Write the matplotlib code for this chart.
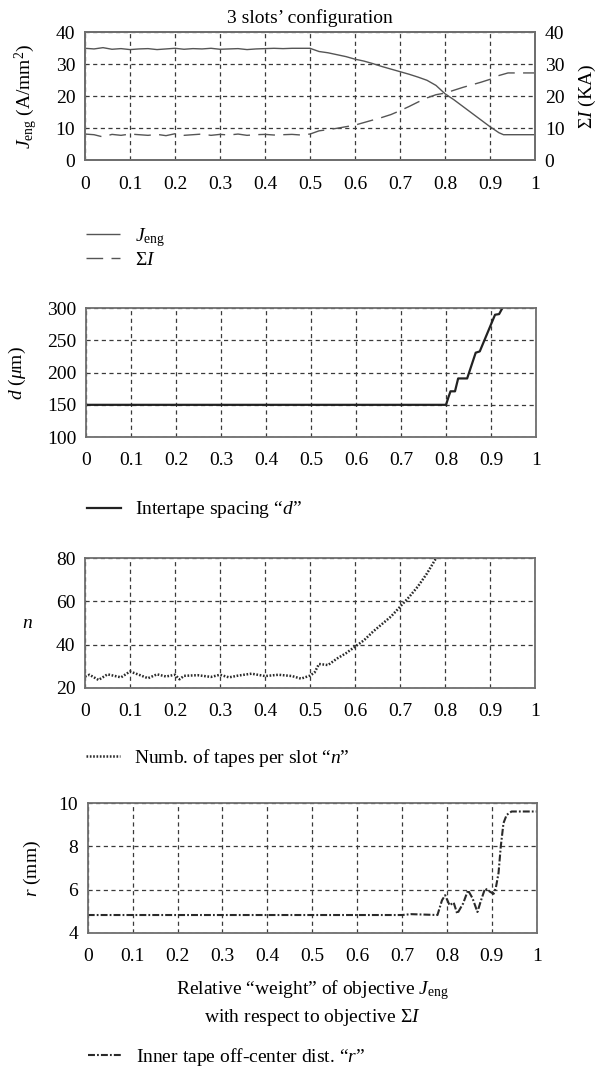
import matplotlib
matplotlib.use("Agg")
import matplotlib.pyplot as plt
from matplotlib.ticker import FixedLocator

plt.rcParams['font.family'] = ['Liberation Serif', 'DejaVu Serif']
plt.rcParams['mathtext.fontset'] = 'custom'
plt.rcParams['mathtext.rm'] = 'Liberation Serif'
plt.rcParams['mathtext.it'] = 'Liberation Serif:italic'
plt.rcParams['mathtext.bf'] = 'Liberation Serif:bold'
plt.rcParams['lines.scale_dashes'] = False

# ---------------- data ----------------
x_ticks = [0, 0.1, 0.2, 0.3, 0.4, 0.5, 0.6, 0.7, 0.8, 0.9, 1.0]
x_ticklabels = ["0", "0.1", "0.2", "0.3", "0.4", "0.5", "0.6", "0.7", "0.8", "0.9", "1"]

j_x = [0, 0.02, 0.04, 0.06, 0.08, 0.10, 0.12, 0.14, 0.16, 0.18, 0.20, 0.22, 0.24,
       0.26, 0.28, 0.30, 0.32, 0.34, 0.36, 0.38, 0.40, 0.42, 0.44, 0.46, 0.48, 0.50,
       0.52, 0.54, 0.56, 0.58, 0.60, 0.62, 0.64, 0.66, 0.68, 0.70, 0.72, 0.74, 0.76,
       0.78, 0.80, 0.82, 0.84, 0.86, 0.88, 0.90, 0.92, 0.93, 0.96, 1.0]
j_eng = [35.0, 34.8, 35.2, 34.7, 34.9, 34.6, 34.8, 34.9, 34.6, 34.8, 35.0, 34.7, 34.9,
         34.8, 35.0, 34.7, 34.8, 34.9, 34.6, 34.8, 34.9, 35.0, 34.9, 35.0, 35.0, 35.0,
         34.0, 33.6, 33.0, 32.4, 31.6, 31.0, 30.2, 29.3, 28.5, 27.7, 26.9, 26.0, 25.0,
         23.4, 20.8, 18.9, 16.8, 14.7, 12.6, 10.5, 8.6, 8.0, 8.0, 8.0]

si_x = [0, 0.02, 0.04, 0.06, 0.08, 0.10, 0.12, 0.14, 0.16, 0.18, 0.20, 0.22, 0.24,
        0.26, 0.28, 0.30, 0.32, 0.34, 0.36, 0.38, 0.40, 0.42, 0.44, 0.46, 0.48, 0.50,
        0.52, 0.54, 0.56, 0.58, 0.60, 0.62, 0.64, 0.66, 0.68, 0.70, 0.72, 0.74, 0.76,
        0.78, 0.80, 0.82, 0.84, 0.86, 0.88, 0.90, 0.92, 0.94, 1.0]
sum_i = [8.2, 8.0, 7.3, 8.1, 7.8, 8.2, 8.0, 7.8, 8.1, 7.7, 8.3, 7.8, 8.0,
         8.2, 7.8, 8.1, 7.9, 8.2, 7.8, 8.0, 8.1, 7.9, 8.0, 8.1, 7.9, 8.2,
         9.2, 9.6, 10.0, 10.5, 11.0, 11.8, 12.6, 13.4, 14.3, 15.5, 16.8, 18.2, 19.5,
         20.5, 21.0, 21.9, 22.8, 23.6, 24.4, 25.3, 26.5, 27.3, 27.3]

d_x = [0, 0.80, 0.806, 0.81, 0.82, 0.827, 0.847, 0.866, 0.875, 0.909, 0.918, 0.925, 0.94]
d_um = [150, 150, 163, 171, 171, 191, 191, 231, 233, 290, 291, 300, 315]

n_x = [0, 0.01, 0.03, 0.05, 0.08, 0.10, 0.12, 0.14, 0.16, 0.18, 0.20, 0.21, 0.22,
       0.25, 0.28, 0.30, 0.32, 0.34, 0.37, 0.40, 0.43, 0.46, 0.48, 0.50, 0.51, 0.52,
       0.54, 0.55, 0.56, 0.58, 0.60, 0.62, 0.64, 0.66, 0.68, 0.70, 0.72, 0.74, 0.76,
       0.78, 0.80, 0.81, 0.82, 0.85, 0.88, 0.89, 0.90, 0.95, 1.0]
n_tapes = [25.2, 26.0, 23.6, 26.2, 24.8, 27.5, 26.0, 24.4, 26.2, 25.2, 26.0, 23.9, 25.5,
           25.8, 25.0, 26.0, 24.8, 25.6, 26.5, 25.4, 26.0, 25.4, 24.2, 25.6, 27.0, 31.0,
           30.5, 32.0, 33.5, 36.0, 39.0, 42.0, 46.0, 49.5, 53.0, 57.5, 62.0, 67.0, 73.0,
           80.0, 86.0, 79.6, 86.0, 95.0, 88.0, 79.6, 90.0, 100.0, 100.0]

r_x = [0, 0.70, 0.72, 0.779, 0.789, 0.796, 0.806, 0.815, 0.823, 0.836, 0.847, 0.857,
       0.868, 0.876, 0.885, 0.896, 0.904, 0.909, 0.915, 0.920, 0.926, 0.933, 0.944, 1.0]
r_mm = [4.82, 4.82, 4.86, 4.82, 5.5, 5.74, 5.27, 5.4, 4.88, 5.35, 5.97, 5.6,
        4.96, 5.5, 6.05, 5.9, 5.8, 6.08, 6.77, 8.0, 9.08, 9.46, 9.62, 9.62]

# ---------------- figure ----------------
W, H = 598, 1070
fig = plt.figure(figsize=(W / 100, H / 100), dpi=100)

def rect(l, r, t, b):
    return [l / W, 1 - b / H, (r - l) / W, (b - t) / H]

FS = 14
GRID_KW = dict(color='#3a3a3a', linewidth=0.9, linestyle=(0, (3, 2.5)))
SPINE_C = '#6e6e6e'

def style_axes(ax, ylim, yticks):
    ax.set_xlim(0, 1)
    ax.set_ylim(*ylim)
    ax.xaxis.set_major_locator(FixedLocator(x_ticks))
    ax.set_xticks(x_ticks)
    ax.set_xticklabels(x_ticklabels)
    ax.set_yticks(yticks)
    ax.grid(True, **GRID_KW)
    ax.set_axisbelow(True)
    for s in ax.spines.values():
        s.set_color(SPINE_C)
        s.set_linewidth(1.3)
    ax.tick_params(axis='x', length=0, pad=11, labelsize=FS)
    ax.tick_params(axis='y', length=0, pad=7, labelsize=FS)

# Panel 1
ax1 = fig.add_axes(rect(85, 535, 32.3, 160.3))
style_axes(ax1, (0, 40), [0, 10, 20, 30, 40])
l_j, = ax1.plot(j_x, j_eng, color='#555555', lw=1.0, solid_capstyle='butt')
l_s, = ax1.plot(si_x, sum_i, color='#555555', lw=1.0, linestyle=(0, (12, 6)))
ax1.set_title("3 slots\u2019 configuration", fontsize=FS, pad=7)
ax1.set_ylabel(r"$J_{\rm eng}$ (A/mm$^2$)", fontsize=FS)
ax1.yaxis.set_label_coords(-0.129, 0.5)
ax1.yaxis.label.set_verticalalignment('center')
ax1b = ax1.twinx()
ax1b.set_ylim(0, 40)
ax1b.set_yticks([0, 10, 20, 30, 40])
ax1b.tick_params(axis='y', length=0, pad=7, labelsize=FS)
for s in ax1b.spines.values():
    s.set_color(SPINE_C)
    s.set_linewidth(1.3)
ax1b.set_ylabel(r"$\Sigma I$ (KA)", fontsize=FS)
ax1b.yaxis.set_label_coords(1.117, 0.5)
ax1b.yaxis.label.set_verticalalignment('center')

fig.legend([l_j, l_s], [r"$J_{\rm eng}$", r"$\Sigma I$"], loc='center left',
           bbox_to_anchor=(86 / W, 1 - 247.5 / H), frameon=False, fontsize=FS,
           borderpad=0, borderaxespad=0, handlelength=1.75, handletextpad=0.77,
           labelspacing=0.15)

# Panel 2
ax2 = fig.add_axes(rect(86, 536, 308.3, 437))
style_axes(ax2, (100, 300), [100, 150, 200, 250, 300])
l_d, = ax2.plot(d_x, d_um, color='#222222', lw=1.6)
ax2.set_ylabel(r"$d$ ($\mu$m)", fontsize=FS)
ax2.yaxis.set_label_coords(-0.153, 0.5)
ax2.yaxis.label.set_verticalalignment('center')
fig.legend([l_d], ["Intertape spacing \u201c$d$\u201d"], loc='center left',
           bbox_to_anchor=(87 / W, 1 - 510 / H), frameon=False, fontsize=FS,
           borderpad=0, borderaxespad=0, handlelength=1.75, handletextpad=0.72)

# Panel 3
ax3 = fig.add_axes(rect(85, 535, 558.3, 687.7))
style_axes(ax3, (20, 80), [20, 40, 60, 80])
l_n, = ax3.plot(n_x, n_tapes, color='#2a2a2a', lw=1.8, linestyle=(0, (1.2, 1.2)))
ax3.set_ylabel(r"$n$", fontsize=FS, rotation=0)
ax3.yaxis.set_label_coords(-0.127, 0.5)
ax3.yaxis.label.set_verticalalignment('center')
ax3.yaxis.label.set_horizontalalignment('center')
fig.legend([l_n], ["Numb. of tapes per slot \u201c$n$\u201d"], loc='center left',
           bbox_to_anchor=(86 / W, 1 - 758 / H), frameon=False, fontsize=FS,
           borderpad=0, borderaxespad=0, handlelength=1.75, handletextpad=0.72)

# Panel 4
ax4 = fig.add_axes(rect(87.7, 536.7, 803.3, 932.7))
style_axes(ax4, (4, 10), [4, 6, 8, 10])
l_r, = ax4.plot(r_x, r_mm, color='#2a2a2a', lw=1.5, linestyle=(0, (5, 1.5, 1.3, 1.5)))
ax4.set_ylabel(r"$r$ (mm)", fontsize=FS)
ax4.yaxis.set_label_coords(-0.124, 0.5)
ax4.yaxis.label.set_verticalalignment('center')
ax4.set_xlabel("Relative \u201cweight\u201d of objective $J_{\\rm eng}$\nwith respect to objective $\\Sigma I$",
               fontsize=FS, linespacing=1.35)
ax4.xaxis.set_label_coords(0.5, -0.35)
fig.legend([l_r], ["Inner tape off-center dist. \u201c$r$\u201d"], loc='center left',
           bbox_to_anchor=(88 / W, 1 - 1057 / H), frameon=False, fontsize=FS,
           borderpad=0, borderaxespad=0, handlelength=1.75, handletextpad=0.7)

fig.savefig("out.png", dpi=100)
